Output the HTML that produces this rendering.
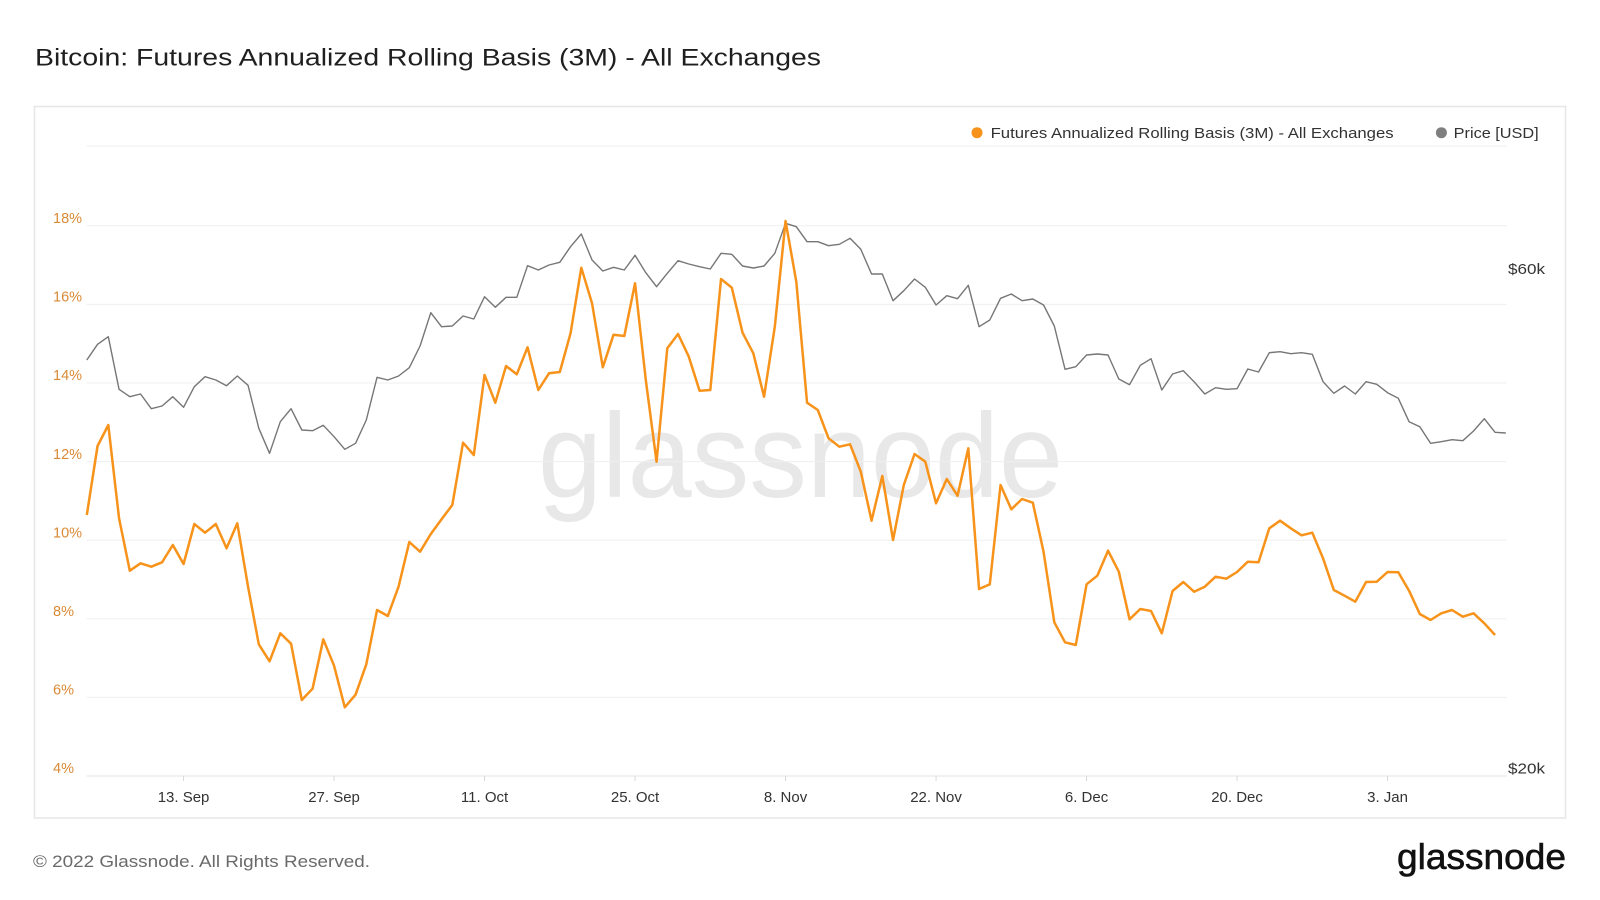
<!DOCTYPE html>
<html>
<head>
<meta charset="utf-8">
<style>
  html, body { margin:0; padding:0; background:#ffffff; }
  body { width:1600px; height:900px; overflow:hidden; }
  svg { display:block; }
  text { font-family: "Liberation Sans", "DejaVu Sans", sans-serif; }
</style>
</head>
<body>
<svg width="1600" height="900" viewBox="0 0 1600 900" xmlns="http://www.w3.org/2000/svg">
  <rect x="0" y="0" width="1600" height="900" fill="#ffffff"/>

  <!-- Title -->
  <text x="35" y="65.7" font-size="24" fill="#1f1f1f" textLength="786" lengthAdjust="spacingAndGlyphs">Bitcoin: Futures Annualized Rolling Basis (3M) - All Exchanges</text>

  <!-- Chart box -->
  <rect x="34.5" y="106.5" width="1531" height="711.5" fill="#ffffff" stroke="#e6e6e6" stroke-width="1.5"/>

  <!-- Watermark -->
  <text x="538" y="497" font-size="120" fill="#e8e8e8" textLength="525" lengthAdjust="spacingAndGlyphs">glassnode</text>

  <!-- Gridlines -->
  <g stroke="#efefef" stroke-width="1">
    <line x1="86.7" y1="146" x2="1506.7" y2="146"/>
    <line x1="86.7" y1="225.8" x2="1506.7" y2="225.8"/>
    <line x1="86.7" y1="304.4" x2="1506.7" y2="304.4"/>
    <line x1="86.7" y1="383" x2="1506.7" y2="383"/>
    <line x1="86.7" y1="461.6" x2="1506.7" y2="461.6"/>
    <line x1="86.7" y1="540.2" x2="1506.7" y2="540.2"/>
    <line x1="86.7" y1="618.8" x2="1506.7" y2="618.8"/>
    <line x1="86.7" y1="697.4" x2="1506.7" y2="697.4"/>
  </g>
  <line x1="86.7" y1="776" x2="1506.7" y2="776" stroke="#e3e3e3" stroke-width="1"/>

  <!-- X ticks -->
  <g stroke="#d8d8d8" stroke-width="1">
    <line x1="183.55" y1="776" x2="183.55" y2="781"/>
    <line x1="334.05" y1="776" x2="334.05" y2="781"/>
    <line x1="484.55" y1="776" x2="484.55" y2="781"/>
    <line x1="635.05" y1="776" x2="635.05" y2="781"/>
    <line x1="785.55" y1="776" x2="785.55" y2="781"/>
    <line x1="936.05" y1="776" x2="936.05" y2="781"/>
    <line x1="1086.55" y1="776" x2="1086.55" y2="781"/>
    <line x1="1237.05" y1="776" x2="1237.05" y2="781"/>
    <line x1="1387.55" y1="776" x2="1387.55" y2="781"/>
  </g>

  <!-- X labels -->
  <g font-size="15" fill="#333333" text-anchor="middle">
    <text x="183.55" y="802">13. Sep</text>
    <text x="334.05" y="802">27. Sep</text>
    <text x="484.55" y="802">11. Oct</text>
    <text x="635.05" y="802">25. Oct</text>
    <text x="785.55" y="802">8. Nov</text>
    <text x="936.05" y="802">22. Nov</text>
    <text x="1086.55" y="802">6. Dec</text>
    <text x="1237.05" y="802">20. Dec</text>
    <text x="1387.55" y="802">3. Jan</text>
  </g>

  <!-- Left Y labels -->
  <g font-size="14.5" fill="#d98a35">
    <text x="53" y="223">18%</text>
    <text x="53" y="301.6">16%</text>
    <text x="53" y="380.2">14%</text>
    <text x="53" y="458.8">12%</text>
    <text x="53" y="537.4">10%</text>
    <text x="53" y="616">8%</text>
    <text x="53" y="694.6">6%</text>
    <text x="53" y="773.2">4%</text>
  </g>

  <!-- Right Y labels -->
  <g font-size="15" fill="#333333">
    <text x="1508" y="274" textLength="37" lengthAdjust="spacingAndGlyphs">$60k</text>
    <text x="1508" y="773.5" textLength="37" lengthAdjust="spacingAndGlyphs">$20k</text>
  </g>

  <!-- Price series (gray) -->
  <polyline fill="none" stroke="#767676" stroke-width="1.4" stroke-linejoin="round" points="86.8,360 97.55,344.3 108.3,336.7 119.05,389.3 129.8,396.7 140.55,394 151.3,408.7 162.05,406 172.8,396.7 183.55,407.3 194.3,386.7 205.05,376.7 215.8,380 226.55,385.7 237.3,376 248.05,385.3 258.8,428.3 269.55,453.3 280.3,421.7 291.05,408.7 301.8,430 312.55,430.7 323.3,425.3 334.05,436.7 344.8,449.3 355.55,443.3 366.3,420 377.05,377.3 387.8,380 398.55,376 409.3,367.7 420.05,346 430.8,312.7 441.55,326.7 452.3,326 463.05,316 473.8,319 484.55,296.7 495.3,307.3 506.05,297.3 516.8,297.3 527.55,265.7 538.3,270 549.05,265 559.8,262.3 570.55,246.7 581.3,234 592.05,260 602.8,271 613.55,267.3 624.3,270 635.05,255.3 645.8,272.7 656.55,286.7 667.3,273.3 678.05,260.7 688.8,264 699.55,266.7 710.3,269 721.05,253.3 731.8,254.3 742.55,266 753.3,268 764.05,266 774.8,253.3 785.55,223.3 796.3,226.7 807.05,241.7 817.8,241.7 828.55,245.7 839.3,244.3 850.05,238.3 860.8,249.3 871.55,274 882.3,274 893.05,300.7 903.8,290.7 914.55,279 925.3,287.3 936.05,305 946.8,295.7 957.55,298.7 968.3,285.3 979.05,326.7 989.8,320 1000.55,298.3 1011.3,294 1022.05,300.7 1032.8,299 1043.55,305 1054.3,326 1065.05,369.3 1075.8,366.7 1086.55,355 1097.3,354 1108.05,355 1118.8,379 1129.55,384.7 1140.3,365.3 1151.05,358.7 1161.8,390 1172.55,374 1183.3,370.7 1194.05,381.7 1204.8,394 1215.55,387.7 1226.3,389.3 1237.05,388.7 1247.8,369 1258.55,372 1269.3,352.7 1280.05,351.7 1290.8,353.7 1301.55,352.7 1312.3,354.3 1323.05,381.7 1333.8,393.3 1344.55,386 1355.3,394 1366.05,381.7 1376.8,384.3 1387.55,392.7 1398.3,398.3 1409.05,421.7 1419.8,426.7 1430.55,443.3 1441.3,441.7 1452.05,439.7 1462.8,440.7 1473.55,431 1484.3,418.7 1495.05,432.3 1505.8,433"/>

  <!-- Basis series (orange) -->
  <polyline fill="none" stroke="#f7931a" stroke-width="2.5" stroke-linejoin="round" points="86.8,515 97.55,446 108.3,425 119.05,518.3 129.8,570.7 140.55,563.3 151.3,566.7 162.05,562.3 172.8,545 183.55,564 194.3,524 205.05,532.7 215.8,524 226.55,548.3 237.3,523.3 248.05,586.7 258.8,644.3 269.55,661.3 280.3,633.3 291.05,643.7 301.8,700 312.55,688.7 323.3,639.3 334.05,665.7 344.8,707.3 355.55,694.7 366.3,664.3 377.05,610 387.8,616 398.55,586.7 409.3,542 420.05,551.7 430.8,534 441.55,519.3 452.3,505 463.05,442.7 473.8,455 484.55,375 495.3,402.7 506.05,366 516.8,374.3 527.55,347.3 538.3,390 549.05,373.3 559.8,372 570.55,333.3 581.3,267.7 592.05,303.3 602.8,367.3 613.55,334.7 624.3,336 635.05,283.3 645.8,380 656.55,461.7 667.3,348.3 678.05,334 688.8,356.7 699.55,390.7 710.3,390 721.05,279 731.8,287.7 742.55,332.7 753.3,353.3 764.05,396.7 774.8,326.7 785.55,221 796.3,281.7 807.05,402.7 817.8,410 828.55,438.3 839.3,446.7 850.05,444.3 860.8,471.7 871.55,520.7 882.3,476 893.05,540 903.8,485 914.55,454 925.3,461.7 936.05,503.3 946.8,479 957.55,495.7 968.3,448.3 979.05,589 989.8,584.3 1000.55,485 1011.3,509.3 1022.05,499 1032.8,502.7 1043.55,551.7 1054.3,622.3 1065.05,642.3 1075.8,645 1086.55,584.3 1097.3,575.7 1108.05,550.7 1118.8,571.7 1129.55,619.3 1140.3,609 1151.05,611 1161.8,633.3 1172.55,591 1183.3,582 1194.05,591.7 1204.8,586.7 1215.55,576.7 1226.3,578.7 1237.05,572 1247.8,561.7 1258.55,562.3 1269.3,528.3 1280.05,520.7 1290.8,528.3 1301.55,535.3 1312.3,532.7 1323.05,558.3 1333.8,590 1344.55,595.7 1355.3,601.7 1366.05,582 1376.8,581.7 1387.55,572 1398.3,572.3 1409.05,590.7 1419.8,614 1430.55,620 1441.3,613.3 1452.05,610 1462.8,616.7 1473.55,613.3 1484.3,623.3 1495.05,635"/>

  <!-- Legend -->
  <circle cx="977" cy="132.7" r="5.5" fill="#f7931a"/>
  <text x="990.6" y="138" font-size="15" fill="#333333" textLength="403" lengthAdjust="spacingAndGlyphs">Futures Annualized Rolling Basis (3M) - All Exchanges</text>
  <circle cx="1441.4" cy="132.7" r="5.5" fill="#7f7f7f"/>
  <text x="1453.7" y="138" font-size="15" fill="#333333" textLength="85" lengthAdjust="spacingAndGlyphs">Price [USD]</text>

  <!-- Footer -->
  <text x="33" y="867" font-size="17" fill="#6a6a6a" textLength="337" lengthAdjust="spacingAndGlyphs">© 2022 Glassnode. All Rights Reserved.</text>
  <text x="1397" y="869" font-size="36" fill="#111111" stroke="#111111" stroke-width="0.6" textLength="169" lengthAdjust="spacingAndGlyphs">glassnode</text>
</svg>
</body>
</html>
